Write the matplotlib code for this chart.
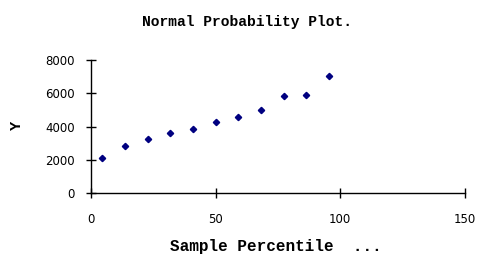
import matplotlib
matplotlib.use("Agg")
import matplotlib.pyplot as plt

# sample percentiles and sorted Y values
percentile = [4.55, 13.64, 22.73, 31.82, 40.91, 50.0, 59.09, 68.18, 77.27, 86.36, 95.45]
y_values = [2120, 2840, 3280, 3640, 3860, 4300, 4600, 5020, 5840, 5920, 7060]

x_ticks = [0, 50, 100, 150]
y_ticks = [0, 2000, 4000, 6000, 8000]

fig = plt.figure(figsize=(4.95, 2.72), dpi=100)
ax = fig.add_axes([0.184, 0.29, 0.755, 0.489])

ax.plot(percentile, y_values, linestyle="none", marker="D",
        markersize=3.2, color="#000080")

ax.set_xlim(0, 150)
ax.set_ylim(0, 8000)
ax.set_xticks(x_ticks)
ax.set_yticks(y_ticks)
ax.tick_params(direction="inout", length=7, width=1, labelsize=8.5,
               colors="black")
ax.tick_params(axis="x", pad=11)
ax.tick_params(axis="y", pad=8)
for side in ("top", "right"):
    ax.spines[side].set_visible(False)
for side in ("left", "bottom"):
    ax.spines[side].set_linewidth(1)

mono = dict(family="Liberation Mono", weight="bold")
fig.text(0.5, 0.92, "Normal Probability Plot.", ha="center", va="center",
         fontsize=10.5, **mono)
fig.text(0.557, 0.092, "Sample Percentile  ...", ha="center", va="center",
         fontsize=11.5, **mono)
fig.text(0.034, 0.54, "Y", ha="center", va="center", rotation=90,
         fontsize=11, **mono)

fig.savefig("out.png", dpi=100)
